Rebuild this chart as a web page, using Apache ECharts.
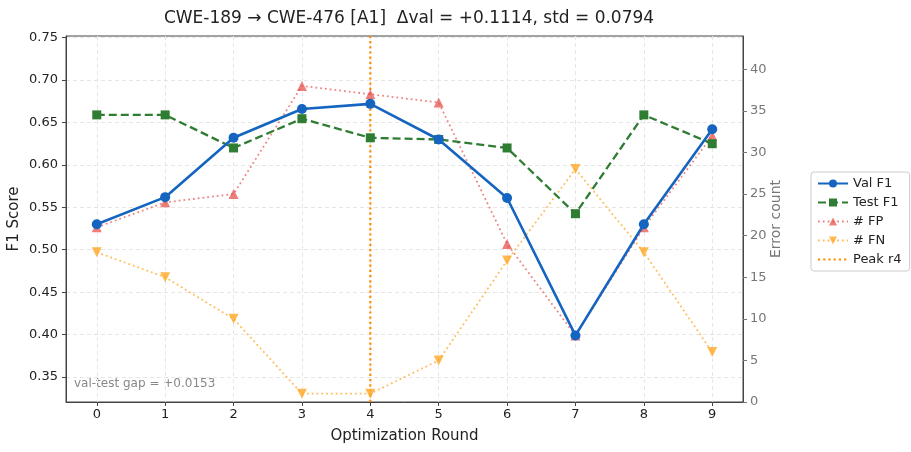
<!DOCTYPE html>
<html>
<head>
<meta charset="utf-8">
<script src="https://cdn.jsdelivr.net/npm/echarts@6/dist/echarts.min.js"></script>
<style>
html,body{margin:0;padding:0;background:#fff;}
#chart{width:911px;height:452px;}
</style>
</head>
<body>
<div id="chart"></div>
<script>
const rounds = [0, 1, 2, 3, 4, 5, 6, 7, 8, 9];
const valF1 = [0.530, 0.562, 0.632, 0.666, 0.672, 0.630, 0.561, 0.399, 0.530, 0.642];
const testF1 = [0.659, 0.659, 0.620, 0.6545, 0.632, 0.630, 0.620, 0.5425, 0.659, 0.625];
const fpCount = [21, 24, 25, 38, 37, 36, 19, 8, 21, 32];
const fnCount = [18, 15, 10, 1, 1, 5, 17, 28, 18, 6];
const f1Ticks = [0.35, 0.40, 0.45, 0.50, 0.55, 0.60, 0.65, 0.70, 0.75];
const errTicks = [0, 5, 10, 15, 20, 25, 30, 35, 40];
const peakRound = 4;
const titleText = 'CWE-189 → CWE-476 [A1]  Δval = +0.1114, std = 0.0794';
const gapText = 'val-test gap = +0.0153';

const FONT = 'DejaVu Sans';
const F1_MIN = 0.3205, F1_MAX = 0.752;
const pair = arr => rounds.map((r, i) => [r, arr[i]]);

const chart = echarts.init(document.getElementById('chart'));
const option = {
	animation: false,
	textStyle: {fontFamily: FONT},
	title: {
		text: titleText,
		left: 404, top: 5,
		textAlign: 'center',
		textStyle: {fontFamily: FONT, fontSize: 17, fontWeight: 'normal', color: '#222'}
	},
	grid: {
		left: 66, right: 168, top: 36, bottom: 50,
		outerBoundsMode: 'none',
		show: true, borderColor: '#444', borderWidth: 1, backgroundColor: 'transparent'
	},
	legend: {
		orient: 'vertical',
		left: 811, top: 172,
		padding: [5, 8, 5, 6],
		itemGap: 6,
		itemWidth: 30, itemHeight: 10,
		borderColor: '#cccccc', borderWidth: 1, borderRadius: 3,
		backgroundColor: '#fff',
		textStyle: {fontFamily: FONT, fontSize: 13, color: '#222'},
		data: ['Val F1', 'Test F1', '# FP', '# FN', 'Peak r4']
	},
	xAxis: {
		type: 'value',
		min: -0.45, max: 9.45,
		name: 'Optimization Round',
		nameLocation: 'middle', nameGap: 27,
		nameMoveOverlap: false,
		nameTextStyle: {fontFamily: FONT, fontSize: 15, color: '#222'},
		axisLine: {show: true, onZero: false, lineStyle: {color: '#444'}},
		axisTick: {show: true, length: 4, customValues: rounds, lineStyle: {color: '#444'}},
		axisLabel: {customValues: rounds, fontFamily: FONT, fontSize: 13, color: '#222', margin: 6},
		splitLine: {show: true, lineStyle: {color: '#e6e6e6', type: [4, 3]}}
	},
	yAxis: [{
		type: 'value',
		min: F1_MIN, max: F1_MAX,
		name: 'F1 Score',
		nameLocation: 'middle', nameGap: 44,
		nameMoveOverlap: false,
		nameTextStyle: {fontFamily: FONT, fontSize: 15, color: '#222'},
		axisLine: {show: true, onZero: false, lineStyle: {color: '#444'}},
		axisTick: {show: true, length: 4, customValues: f1Ticks, lineStyle: {color: '#444'}},
		axisLabel: {customValues: f1Ticks, formatter: v => v.toFixed(2), fontFamily: FONT, fontSize: 13, color: '#222', margin: 8},
		splitLine: {show: true, lineStyle: {color: '#e6e6e6', type: [4, 3]}}
	}, {
		type: 'value',
		min: 0, max: 44,
		position: 'right',
		name: 'Error count',
		nameLocation: 'middle', nameGap: 26,
		nameMoveOverlap: false,
		nameTextStyle: {fontFamily: FONT, fontSize: 14, color: '#777'},
		axisLine: {show: true, onZero: false, lineStyle: {color: '#444'}},
		axisTick: {show: true, length: 4, customValues: errTicks, lineStyle: {color: '#777'}},
		axisLabel: {customValues: errTicks, fontFamily: FONT, fontSize: 13, color: '#777', margin: 7},
		splitLine: {show: false}
	}],
	series: [{
		name: 'Val F1',
		type: 'line',
		data: pair(valF1),
		yAxisIndex: 0,
		z: 5,
		symbol: 'circle', symbolSize: 10,
		color: '#1565C0',
		lineStyle: {width: 2.6, color: '#1565C0'},
		itemStyle: {color: '#1565C0'}
	}, {
		name: 'Test F1',
		type: 'line',
		data: pair(testF1),
		yAxisIndex: 0,
		z: 4,
		symbol: 'rect', symbolSize: 9,
		color: '#2E7D32',
		lineStyle: {width: 2.3, color: '#2E7D32', type: [8, 4]},
		itemStyle: {color: '#2E7D32'}
	}, {
		name: '# FP',
		type: 'line',
		data: pair(fpCount),
		yAxisIndex: 1,
		z: 3,
		symbol: 'triangle', symbolSize: 10,
		color: 'rgba(229,83,80,0.75)',
		lineStyle: {width: 1.8, color: 'rgba(229,83,80,0.7)', type: [1.8, 3]},
		itemStyle: {color: 'rgba(229,83,80,0.75)'}
	}, {
		name: '# FN',
		type: 'line',
		data: pair(fnCount),
		yAxisIndex: 1,
		z: 3,
		symbol: 'triangle', symbolRotate: 180, symbolSize: 10,
		color: 'rgba(255,167,38,0.8)',
		lineStyle: {width: 1.8, color: 'rgba(255,167,38,0.75)', type: [1.8, 3]},
		itemStyle: {color: 'rgba(255,167,38,0.8)'}
	}, {
		// vertical marker at the best round, drawn as a 2-point line so it gets a legend entry
		name: 'Peak r4',
		type: 'line',
		data: [[peakRound, F1_MIN], [peakRound, F1_MAX]],
		yAxisIndex: 0,
		z: 2,
		symbol: 'circle', symbolSize: 0,
		showSymbol: false,
		itemStyle: {color: 'rgba(255,140,0,0)', borderWidth: 0},
		lineStyle: {width: 2.2, color: '#FF8C00', type: [2.2, 3]}
	}],
	graphic: [{
		type: 'text',
		left: 74, top: 378,
		style: {text: gapText, font: '12px "DejaVu Sans"', fill: '#888'}
	}]
};
chart.setOption(option);
</script>
</body>
</html>
